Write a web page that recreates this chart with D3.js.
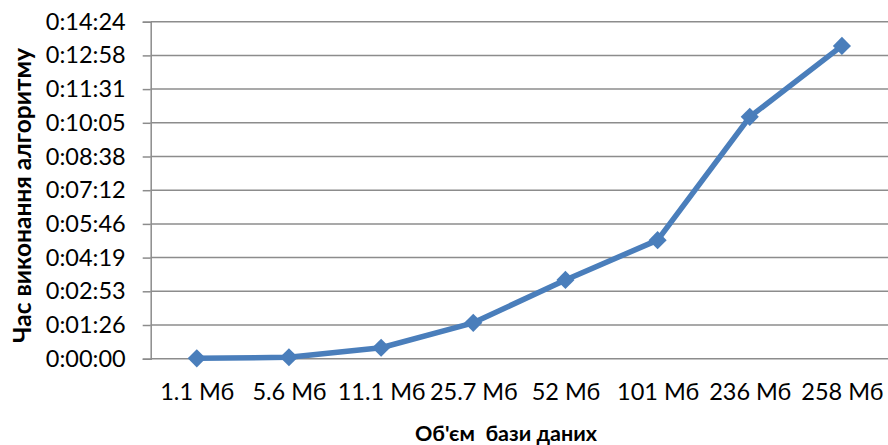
<!DOCTYPE html>
<html>
<head>
<meta charset="utf-8">
<script src="https://cdn.jsdelivr.net/npm/d3@7/dist/d3.min.js"></script>
<style>
  html, body { margin: 0; padding: 0; background: #fff; }
  svg { display: block; }
  text { font-family: Lato, "Open Sans", sans-serif; fill: #000; }
</style>
</head>
<body>
<script>
// Data
const categories = ["1.1 Мб", "5.6 Мб", "11.1 Мб", "25.7 Мб", "52 Мб", "101 Мб", "236 Мб", "258 Мб"];
const timeSeconds = [1, 3.6, 28, 92, 202, 304, 620, 802];
const yTickValues = [0, 86.4, 172.8, 259.2, 345.6, 432, 518.4, 604.8, 691.2, 777.6, 864];
const yTickLabels = ["0:00:00", "0:01:26", "0:02:53", "0:04:19", "0:05:46", "0:07:12", "0:08:38", "0:10:05", "0:11:31", "0:12:58", "0:14:24"];
const xTitle = "Об'єм  бази даних";
const yTitle = "Час виконання алгоритму";

(function () {
const W = 888, H = 445;
const mLeft = 150.7, mRight = 888, mTop = 21.7, mBottom = 358.7;
const gridColor = "#8c8c8c";
const lineColor = "#4a7ebb";
const tickFont = 23.5;

const svg = d3.select("body").append("svg").attr("width", W).attr("height", H);

const x = d3.scalePoint().domain(categories).range([mLeft, mRight]).padding(0.5);
const y = d3.scaleLinear().domain([0, 864]).range([mBottom, mTop]);

// gridlines
svg.append("g").selectAll("line").data(yTickValues).join("line")
  .attr("x1", mLeft).attr("x2", mRight)
  .attr("y1", d => y(d)).attr("y2", d => y(d))
  .attr("stroke", gridColor).attr("stroke-width", 1.5);

// y axis
const yAxis = d3.axisLeft(y).tickValues(yTickValues)
  .tickFormat((d, i) => yTickLabels[i]).tickSize(8).tickPadding(17);
const gy = svg.append("g").attr("transform", `translate(${mLeft},0)`).call(yAxis);
gy.select(".domain").attr("stroke", gridColor).attr("stroke-width", 1.5);
gy.selectAll(".tick line").attr("stroke", gridColor).attr("stroke-width", 1.5);
gy.selectAll(".tick text").style("font-size", tickFont + "px").style("font-family", "Lato, sans-serif").attr("fill", "#000");

// x axis
const xAxis = d3.axisBottom(x).tickSize(0).tickPadding(24.5);
const gx = svg.append("g").attr("transform", `translate(0,${mBottom})`).call(xAxis);
gx.select(".domain").remove();
gx.selectAll(".tick text").style("font-size", tickFont + "px").style("font-family", "Lato, sans-serif").attr("fill", "#000");

// line
const data = categories.map((c, i) => ({ c, v: timeSeconds[i] }));
svg.append("path").datum(data)
  .attr("fill", "none").attr("stroke", lineColor).attr("stroke-width", 5.5)
  .attr("stroke-linejoin", "round")
  .attr("d", d3.line().x(d => x(d.c)).y(d => y(d.v)));

// markers
svg.append("g").selectAll("path").data(data).join("path")
  .attr("transform", d => `translate(${x(d.c)},${y(d.v)})`)
  .attr("d", d3.symbol().type(d3.symbolDiamond2).size(210))
  .attr("fill", lineColor);

// titles
svg.append("text").attr("x", 506).attr("y", 441)
  .attr("text-anchor", "middle").style("font-size", "21.5px").style("font-weight", "bold")
  .style("white-space", "pre")
  .text(xTitle);
svg.append("text").attr("transform", "translate(31,195.5) rotate(-90)")
  .attr("text-anchor", "middle").style("font-size", "24.5px").style("font-weight", "bold")
  .text(yTitle);
})();
</script>
</body>
</html>
